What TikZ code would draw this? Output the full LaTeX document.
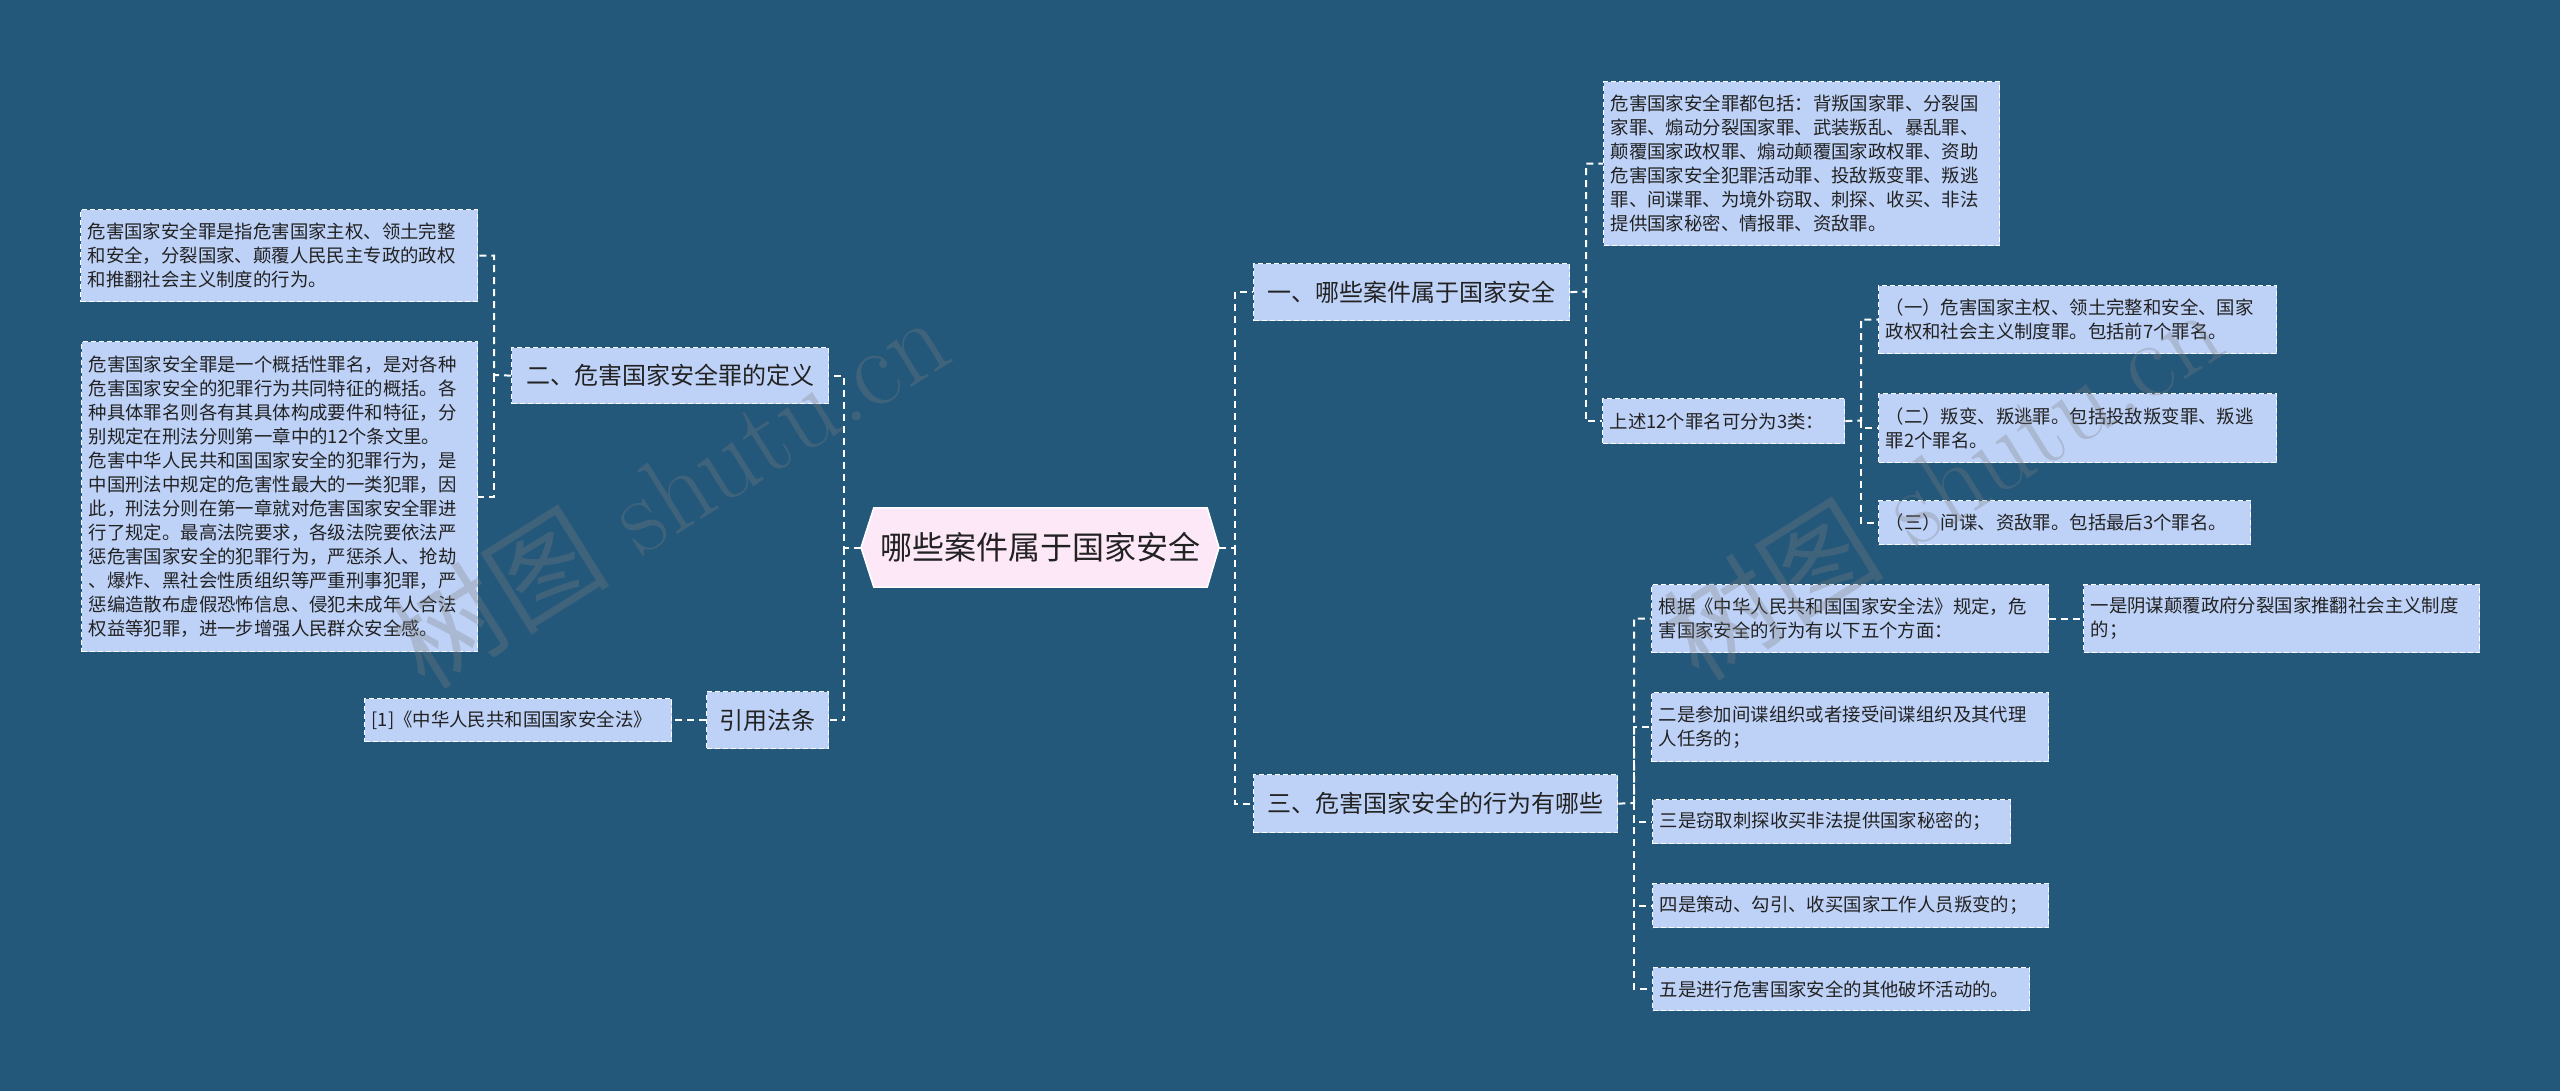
\documentclass[tikz,border=0pt]{standalone}
\usepackage{fontspec}
\newfontfamily\cjk{Noto Sans CJK SC}
\usetikzlibrary{backgrounds,calc}
\definecolor{bgc}{RGB}{36,88,123}
\definecolor{boxc}{RGB}{190,210,248}
\definecolor{rootc}{RGB}{253,232,248}
\definecolor{txtc}{RGB}{34,34,34}
\definecolor{wmc}{RGB}{125,125,125}
\begin{document}
\begin{tikzpicture}[x=1pt,y=-1pt,
  sbox/.style={draw=white, line width=1.3pt, dash pattern=on 5pt off 3pt, fill=boxc, text=txtc,
    font=\cjk\fontsize{18.4}{24}\selectfont, inner xsep=7pt, inner ysep=0pt, align=left, anchor=north west},
  bbox/.style={sbox, font=\cjk\fontsize{24}{28}\selectfont, align=center, inner xsep=0pt},
  conn/.style={draw=white, line width=2pt, dash pattern=on 7pt off 5pt},
  wmark/.style={font=\fontsize{110}{110}\selectfont, text=wmc, text opacity=0.3, rotate=32}]
\useasboundingbox (0,0) rectangle (2560,1091);

% root
\node[font=\cjk\fontsize{32}{36}\selectfont, text=txtc, minimum width=333pt, minimum height=79pt, inner sep=0pt] (root) at (1040.5,547.5) {哪些案件属于国家安全};
\coordinate (rootL) at (861,547.5);
\coordinate (rootR) at (1219,547.5);

% left side
\node[bbox, text width=317pt, minimum height=56pt] (def) at (511,347) {二、危害国家安全罪的定义};
\node[sbox, text width=383pt, minimum height=92pt] (d1) at (80,209) {危害国家安全罪是指危害国家主权、领土完整\\和安全，分裂国家、颠覆人民民主专政的政权\\和推翻社会主义制度的行为。};
\node[sbox, text width=382pt, minimum height=310pt] (d2) at (81,341) {危害国家安全罪是一个概括性罪名，是对各种\\危害国家安全的犯罪行为共同特征的概括。各\\种具体罪名则各有其具体构成要件和特征，分\\别规定在刑法分则第一章中的12个条文里。\\危害中华人民共和国国家安全的犯罪行为，是\\中国刑法中规定的危害性最大的一类犯罪，因\\此，刑法分则在第一章就对危害国家安全罪进\\行了规定。最高法院要求，各级法院要依法严\\惩危害国家安全的犯罪行为，严惩杀人、抢劫\\、爆炸、黑社会性质组织等严重刑事犯罪，严\\惩编造散布虚假恐怖信息、侵犯未成年人合法\\权益等犯罪，进一步增强人民群众安全感。};
\node[bbox, text width=122pt, minimum height=57pt] (cite) at (706,691) {引用法条};
\node[sbox, text width=293pt, minimum height=43pt] (ref) at (364,698) {[1]《中华人民共和国国家安全法》};

% right side
\node[bbox, text width=316pt, minimum height=57pt] (one) at (1253,263) {一、哪些案件属于国家安全};
\node[sbox, text width=382pt, minimum height=164pt] (inc) at (1603,81) {危害国家安全罪都包括：背叛国家罪、分裂国\\家罪、煽动分裂国家罪、武装叛乱、暴乱罪、\\颠覆国家政权罪、煽动颠覆国家政权罪、资助\\危害国家安全犯罪活动罪、投敌叛变罪、叛逃\\罪、间谍罪、为境外窃取、刺探、收买、非法\\提供国家秘密、情报罪、资敌罪。};
\node[sbox, text width=228pt, minimum height=45pt] (cls) at (1602,398) {上述12个罪名可分为3类：};
\node[sbox, text width=384pt, minimum height=68pt] (c1) at (1878,285) {（一）危害国家主权、领土完整和安全、国家\\政权和社会主义制度罪。包括前7个罪名。};
\node[sbox, text width=384pt, minimum height=69pt] (c2) at (1878,393) {（二）叛变、叛逃罪。包括投敌叛变罪、叛逃\\罪2个罪名。};
\node[sbox, text width=358pt, minimum height=44pt] (c3) at (1878,500) {（三）间谍、资敌罪。包括最后3个罪名。};

\node[bbox, text width=364pt, minimum height=58pt] (three) at (1253,774) {三、危害国家安全的行为有哪些};
\node[sbox, text width=383pt, minimum height=68pt] (law) at (1651,584) {根据《中华人民共和国国家安全法》规定，危\\害国家安全的行为有以下五个方面：};
\node[sbox, text width=382pt, minimum height=68pt] (a1) at (2083,584) {一是阴谋颠覆政府分裂国家推翻社会主义制度\\的；};
\node[sbox, text width=383pt, minimum height=69pt] (a2) at (1651,692) {二是参加间谍组织或者接受间谍组织及其代理\\人任务的；};
\node[sbox, text width=344pt, minimum height=44pt] (a3) at (1652,799) {三是窃取刺探收买非法提供国家秘密的；};
\node[sbox, text width=382pt, minimum height=44pt] (a4) at (1652,883) {四是策动、勾引、收买国家工作人员叛变的；};
\node[sbox, text width=363pt, minimum height=43pt] (a5) at (1652,967) {五是进行危害国家安全的其他破坏活动的。};

% trunk points
\coordinate (jL) at (844,547.5);
\coordinate (jDef) at (494,375);
\coordinate (jR) at (1235,547.5);
\coordinate (jOne) at (1586,291.5);
\coordinate (jCls) at (1861,420.5);
\coordinate (jThree) at (1634,803);

% connectors
\draw[conn] (rootL) -- (jL) |- (def.east);
\draw[conn] (jL) |- (cite.east);
\draw[conn] (def.west) -- (jDef) |- (d1.east);
\draw[conn] (jDef) |- (d2.east);
\draw[conn] (cite.west) -- (ref.east);
\draw[conn] (rootR) -- (jR) |- (one.west);
\draw[conn] (jR) |- (three.west);
\draw[conn] (one.east) -- (jOne) |- (inc.west);
\draw[conn] (jOne) |- (cls.west);
\draw[conn] (cls.east) -- (jCls) |- (c1.west);
\draw[conn] (jCls) |- (c2.west);
\draw[conn] (jCls) |- (c3.west);
\draw[conn] (three.east) -- (jThree) |- (law.west);
\draw[conn] (jThree) |- (a2.west);
\draw[conn] (jThree) |- (a3.west);
\draw[conn] (jThree) |- (a4.west);
\draw[conn] (jThree) |- (a5.west);
\draw[conn] (law.east) -- (a1.east -| a1.west);

% watermarks
\node[wmark] (wm1) at (669,490) {{\cjk 树图} shutu.cn};
\node[wmark] (wm2) at (1943,482) {{\cjk 树图} shutu.cn};

\begin{scope}[on background layer]
\fill[bgc] (0,0) rectangle (2560,1091);
\filldraw[fill=rootc, draw=white, line width=1.5pt] (root.north west) -- (root.north east) -- (rootR) -- (root.south east) -- (root.south west) -- (rootL) -- cycle;
\end{scope}
\end{tikzpicture}
\end{document}
